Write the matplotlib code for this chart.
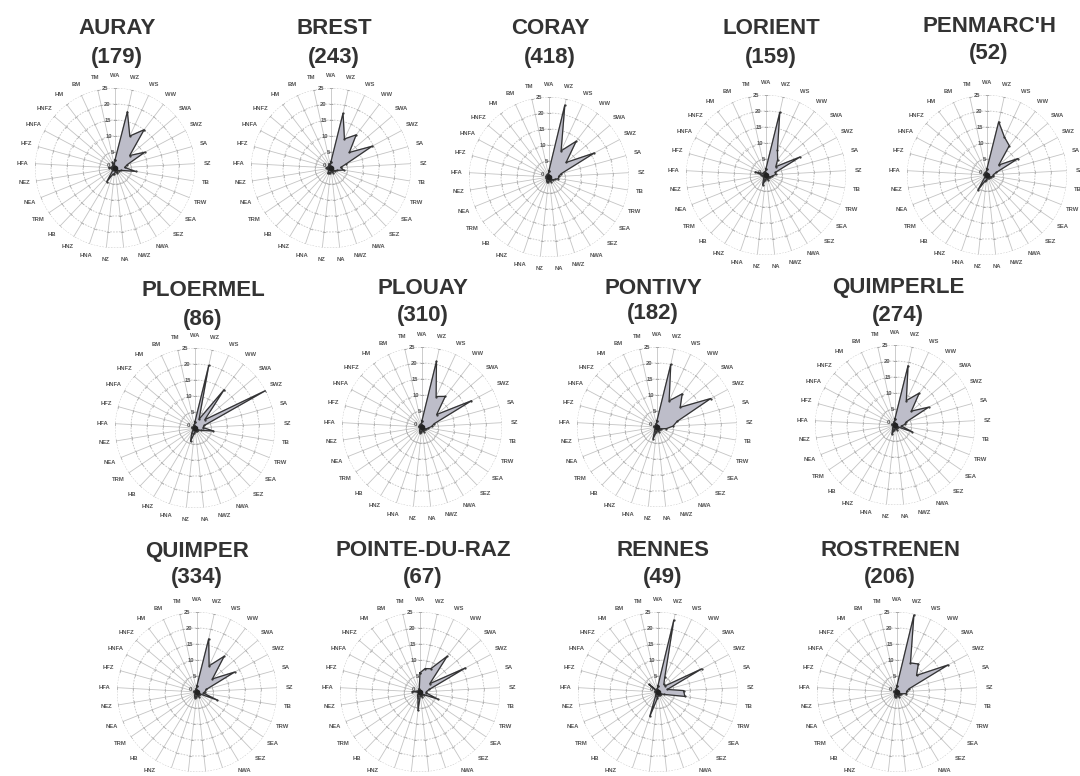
import numpy as np
import matplotlib
matplotlib.use("Agg")
import matplotlib.pyplot as plt

categories = ['WA', 'WZ', 'WS', 'WW', 'SWA', 'SWZ', 'SA', 'SZ', 'TB', 'TRW',
              'SEA', 'SEZ', 'NWA', 'NWZ', 'NA', 'NZ', 'HNA', 'HNZ', 'HB', 'TRM',
              'NEA', 'NEZ', 'HFA', 'HFZ', 'HNFA', 'HNFZ', 'HM', 'BM', 'TM']
radial_ticks = [0, 5, 10, 15, 20, 25]

stations = ['AURAY', 'BREST', 'CORAY', 'LORIENT', "PENMARC'H",
            'PLOERMEL', 'PLOUAY', 'PONTIVY', 'QUIMPERLE',
            'QUIMPER', 'POINTE-DU-RAZ', 'RENNES', 'ROSTRENEN']
counts = [179, 243, 418, 159, 52, 86, 310, 182, 274, 334, 67, 49, 206]

#            WA  WZ  WS  WW SWA SWZ  SA  SZ  TB TRW SEA SEZ NWA NWZ  NA  NZ HNA HNZ  HB TRM NEA NEZ HFA HFZ HNFA HNFZ HM BM  TM
auray     = [2.5, 18, 11, 15, 6, 10.5, 4, 3, 6.5, 2, 1.5, 1, 1.5, 1.5, 1, 2, 2, 5, 1, 0.5, 1, 1, 2, 1, 1, 1, 1, 2, 1]
brest     = [2, 17.5, 10, 13, 7.5, 14.5, 5, 3, 4, 2, 1.5, 1, 1, 1.5, 1, 1.5, 1.5, 2, 1, 0.5, 1, 1, 1.5, 1, 1, 1, 1, 1.5, 1]
coray     = [2, 23, 9, 14, 7, 16, 4, 3, 3, 2, 1.5, 1, 1, 1.5, 1, 1.5, 1.5, 1.5, 1, 0.5, 1, 0.5, 1, 1, 0.5, 1, 0.5, 1, 1]
lorient   = [2, 20, 8.5, 6, 4, 12, 3, 3, 2, 1.5, 1, 1, 1, 1.5, 1, 1.5, 3.3, 1.5, 1, 0.5, 1, 1, 1.5, 3.5, 1, 1, 1, 1, 1]
penmarch  = [2, 17, 13, 11.5, 4.8, 11, 3, 2, 2, 1.5, 1, 1, 1, 1, 1, 1.5, 2, 5.5, 1, 0.5, 0.5, 0.5, 1, 1, 0.5, 1, 0.5, 1, 1]
ploermel  = [2, 20, 3, 15, 4, 25, 3, 2.5, 5.8, 2, 1, 1, 1, 1, 1, 1.5, 4.4, 2, 1, 0.5, 0.5, 0.5, 1, 1, 0.5, 0.5, 0.5, 1, 1]
plouay    = [2, 21, 10.5, 12, 6, 17.5, 4, 3, 2, 1.5, 1, 1, 1, 1.5, 1, 1.5, 2, 1.5, 1, 0.5, 0.5, 0.5, 1, 1, 0.5, 1, 0.5, 1, 1]
pontivy   = [2, 20, 9, 13, 9.5, 19, 6.5, 5, 3, 1.5, 1, 1, 1, 1.5, 1, 1.5, 3.9, 1.5, 1, 0.5, 0.5, 0.5, 1, 1, 0.5, 0.5, 0.5, 1, 1]
quimperle = [2, 19, 8.4, 12.5, 6.7, 11.9, 3.7, 3, 2, 5.8, 1, 1, 1, 1.5, 1, 1.5, 3, 1.5, 1, 0.5, 0.5, 0.5, 1, 1, 0.5, 0.5, 0.5, 1, 1]
quimper   = [2, 17, 9, 14, 6.3, 13.3, 3, 2.5, 2, 6.8, 1, 1, 1, 1.5, 1, 1.5, 2, 1.5, 1, 0.5, 0.5, 0.5, 1, 1, 0.5, 0.5, 0.5, 1, 1]
pointe    = [6, 7.5, 8, 14, 4, 16, 3, 2, 2, 6, 1.5, 1, 1, 1.5, 1, 5.8, 2, 1.5, 1, 0.5, 0.5, 0.5, 2.5, 1, 0.5, 0.5, 0.5, 1, 1]
rennes    = [2, 23, 5, 3, 3, 15.4, 3, 8, 8.5, 2, 1, 1, 1, 1, 1, 2, 8, 1.5, 1, 0.5, 0.5, 0.5, 1, 1, 0.5, 3.7, 0.5, 1, 1]
rostrenen = [2, 24.5, 10, 11, 8, 18, 4, 3, 3, 1.5, 1, 1, 1, 1.5, 1, 1.5, 1.5, 1.5, 1, 0.5, 0.5, 0.5, 1, 1, 0.5, 0.5, 0.5, 1, 1]

series = [auray, brest, coray, lorient, penmarch, ploermel, plouay, pontivy,
          quimperle, quimper, pointe, rennes, rostrenen]

# layout (pixel centres of each radar, and of its two title lines)
centers = [(115, 168), (331, 168), (549, 177), (766, 175), (987, 175),
           (195, 428), (422, 427), (657, 427), (895, 425),
           (197, 692), (420, 692), (658, 692), (897, 692)]
title_pos = [(117, 28, 57), (334, 28, 57), (550, 28, 57), (771, 28, 57), (989, 26, 54),
             (203, 290, 319), (423, 288, 316), (653, 288, 314), (898, 288, 315),
             (197, 552, 578), (423, 550, 577), (663, 550, 577), (890, 550, 577)]

W, H = 1080, 776
R = 80  # pixel radius of the 25 ring
fig = plt.figure(figsize=(W / 100, H / 100), dpi=100)
fig.patch.set_facecolor('white')

n = len(categories)
theta = np.arange(n) * 2 * np.pi / n
grid_col = '#c4c4c4'
text_col = '#555555'

for name, cnt, vals, (cx, cy), (tx, ty1, ty2) in zip(stations, counts, series,
                                                      centers, title_pos):
    ax = fig.add_axes([(cx - R) / W, (H - cy - R) / H, 2 * R / W, 2 * R / H],
                      projection='polar')
    ax.set_theta_zero_location('N')
    ax.set_theta_direction(-1)
    ax.set_ylim(0, 25)
    ax.set_axis_off()

    # rings
    circ = np.linspace(0, 2 * np.pi, 300)
    for r in radial_ticks[1:]:
        ax.plot(circ, np.full_like(circ, r), color=grid_col, lw=0.6,
                ls=(0, (2, 1.5)), zorder=1)
    # spokes with ticks
    for t in theta:
        ax.plot([t, t], [0, 25], color=grid_col, lw=0.6, zorder=1)
        for r in radial_ticks[1:]:
            ax.plot([t], [r], marker=(2, 0, 90 - np.degrees(t)), ms=2.5,
                    mew=0.5, color='#a8a8a8', zorder=1)
    # category labels
    for t, lab in zip(theta, categories):
        ax.text(t, 28.8, lab, ha='center', va='center', fontsize=4.2,
                fontweight='bold', color=text_col, clip_on=False,
                family='Liberation Sans')
    # radial labels
    for r in radial_ticks:
        ax.text(np.radians(-4.5) if r else np.radians(-60), r if r else 1.6,
                str(r), ha='right', va='center', fontsize=4.2, fontweight='bold',
                color=text_col, family='Liberation Sans')

    tt = np.append(theta, theta[0])
    vv = np.append(vals, vals[0])
    ax.fill(tt, vv, color='#bdbdc9', zorder=2)
    ax.plot(tt, vv, color='#333333', lw=0.9, zorder=3,
            marker='o', ms=0.6, mfc='#333333', mec='#333333')
    ax.plot([0], [0], marker='o', ms=3, color='#222222', zorder=4)

    fig.text(tx / W, 1 - ty1 / H, name, ha='center', va='center',
             fontsize=16, fontweight='bold', color='#333333',
             family='Liberation Sans')
    fig.text(tx / W, 1 - ty2 / H, f'({cnt})', ha='center', va='center',
             fontsize=16, fontweight='bold', color='#333333',
             family='Liberation Sans')

fig.savefig('out.png', dpi=100, facecolor='white')
